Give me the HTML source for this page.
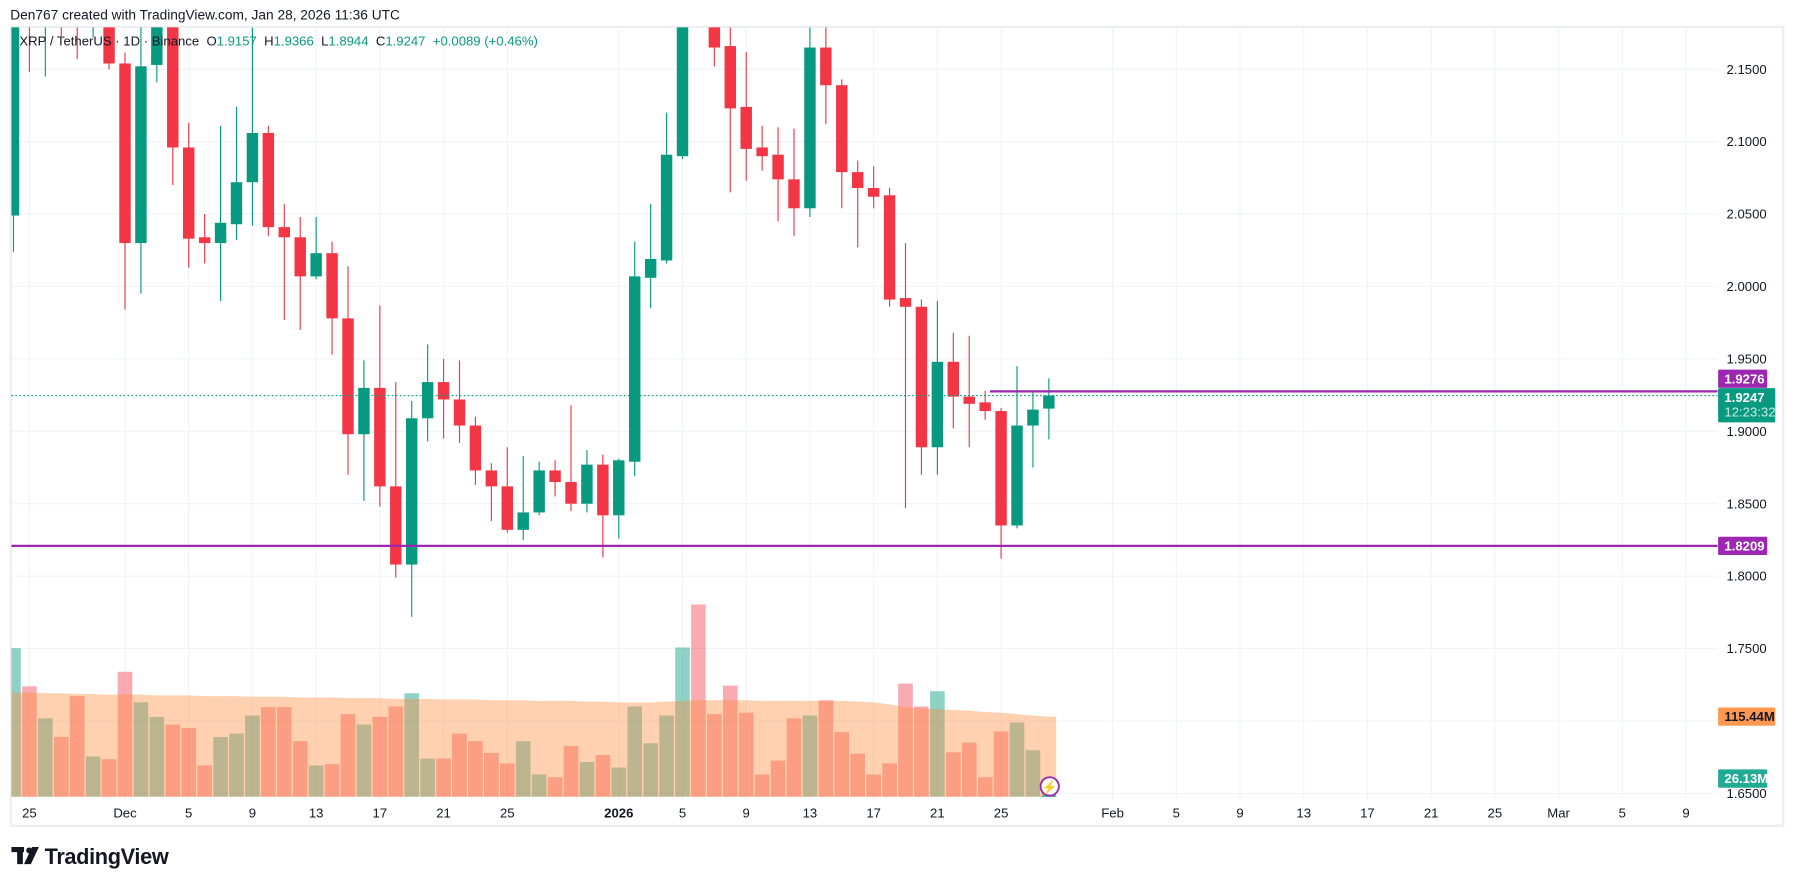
<!DOCTYPE html>
<html><head><meta charset="utf-8"><title>XRP / TetherUS 1D</title>
<style>
html,body{margin:0;padding:0;background:#fff;}
svg{display:block;font-family:"Liberation Sans",sans-serif;}
</style></head>
<body>
<svg id="chart" width="1793" height="887" viewBox="0 0 1568 776" preserveAspectRatio="none" xmlns="http://www.w3.org/2000/svg">
  <defs><clipPath id="pane"><rect x="10" y="24" width="1492" height="698"/></clipPath></defs>
  <rect x="0" y="0" width="1568" height="776" fill="#fff"/>
  <text x="9" y="17" font-size="12" fill="#131722">Den767 created with TradingView.com, Jan 28, 2026 11:36 UTC</text>
  <rect x="9.5" y="23.5" width="1550" height="699" fill="none" stroke="#eceef2" stroke-width="2"/>
  <g id="grid"></g>
  <g id="volume" clip-path="url(#pane)"></g>
  <g id="candles" clip-path="url(#pane)"></g>
  <g id="levels"></g>
  <g id="yaxis"></g>
  <g id="xaxis"></g>
  <text x="17" y="40" font-size="11.5" fill="#131722" xml:space="preserve">XRP / TetherUS · 1D · Binance  O<tspan fill="#089981">1.9157</tspan>  H<tspan fill="#089981">1.9366</tspan>  L<tspan fill="#089981">1.8944</tspan>  C<tspan fill="#089981">1.9247  +0.0089 (+0.46%)</tspan></text>
  <g>
    <rect x="10" y="741" width="11" height="4.5" fill="#131722"/>
    <rect x="15" y="741" width="5" height="15" fill="#131722"/>
    <circle cx="25.5" cy="744" r="2.6" fill="#131722"/>
    <polygon points="28,741 34,741 27,756 21,756" fill="#131722"/>
    <text x="39" y="756" font-size="19" font-weight="bold" fill="#131722" letter-spacing="-0.3">TradingView</text>
  </g>
  <g>
    <circle cx="918" cy="688" r="8" fill="#fff" stroke="#9c27b0" stroke-width="1.6"/>
    <text x="918" y="692.5" font-size="11" fill="#9c27b0" text-anchor="middle">⚡</text>
  </g>
</svg>
<script>
// ---- data ----
const open  = [2.049,2.23,2.18,2.21,2.22,2.19,2.21,2.154,2.030,2.153,2.20,2.096,2.034,2.030,2.043,2.072,2.106,2.041,2.034,2.007,2.023,1.978,1.898,1.930,1.862,1.808,1.909,1.934,1.922,1.904,1.873,1.862,1.832,1.844,1.873,1.865,1.850,1.877,1.842,1.879,2.006,2.018,2.090,2.28,2.20,2.166,2.124,2.096,2.091,2.074,2.054,2.165,2.139,2.079,2.068,2.063,1.992,1.986,1.889,1.948,1.924,1.920,1.914,1.835,1.904,1.9157];
const high  = [2.25,2.24,2.24,2.23,2.24,2.24,2.23,2.1615,2.22,2.22,2.22,2.113,2.050,2.111,2.124,2.20,2.111,2.057,2.048,2.048,2.031,2.014,1.949,1.987,1.934,1.921,1.960,1.950,1.949,1.910,1.878,1.889,1.883,1.879,1.880,1.918,1.887,1.884,1.881,2.031,2.057,2.120,2.25,2.35,2.21,2.19,2.162,2.111,2.110,2.109,2.19,2.19,2.143,2.087,2.083,2.068,2.030,1.991,1.990,1.968,1.966,1.928,1.916,1.945,1.928,1.9366];
const low   = [2.024,2.148,2.145,2.173,2.157,2.172,2.150,1.984,1.995,2.141,2.070,2.013,2.016,1.990,2.032,2.042,2.035,1.977,1.970,2.005,1.953,1.870,1.852,1.848,1.799,1.772,1.893,1.895,1.892,1.863,1.838,1.830,1.825,1.842,1.855,1.845,1.844,1.813,1.826,1.869,1.985,2.016,2.088,2.185,2.152,2.065,2.073,2.080,2.045,2.035,2.048,2.112,2.054,2.027,2.054,1.986,1.847,1.870,1.870,1.902,1.889,1.908,1.812,1.833,1.875,1.8944];
const close = [2.22,2.19,2.22,2.19,2.20,2.22,2.154,2.030,2.152,2.19,2.096,2.033,2.030,2.044,2.072,2.106,2.041,2.034,2.007,2.023,1.978,1.898,1.930,1.862,1.808,1.909,1.934,1.922,1.904,1.873,1.862,1.832,1.844,1.873,1.865,1.850,1.877,1.842,1.880,2.007,2.019,2.091,2.22,2.20,2.165,2.123,2.095,2.090,2.074,2.054,2.165,2.139,2.079,2.068,2.062,1.991,1.986,1.889,1.948,1.924,1.919,1.914,1.835,1.904,1.915,1.9247];
const volume = [214,159,113,86,145,58,54,180,136,115,104,99,45,86,91,117,129,129,80,45,47,119,104,115,130,149,55,55,91,80,63,48,80,32,28,73,50,60,42,130,77,117,215,277,119,160,121,32,52,113,117,139,93,62,32,48,163,130,152,64,78,28,94,107,67,26.13];
const volumeMA = [150,150,149,149,148,148,147,147,147,146,146,146,145,145,145,144,144,144,143,143,143,142,142,142,141,141,141,140,140,140,139,139,139,138,138,138,137,137,136,136,136,137,138,139,139,139,139,138,138,138,138,138,138,137,136,133,129,127,126,125,124,122,121,119,117,115.44];
const priceTicks = [2.15,2.10,2.05,2.00,1.95,1.90,1.85,1.80,1.75,1.70,1.65];
const dateTickDays = [1,7,11,15,19,23,27,31,38,42,46,50,54,58,62,69,73,77,81,85,89,93,97,101,105];
const dateTickLabels = ["25","Dec","5","9","13","17","21","25","2026","5","9","13","17","21","25","Feb","5","9","13","17","21","25","Mar","5","9"];
const resistanceLevel = 1.9276;
const supportLevel = 1.8209;
const lastPrice = 1.9247;
const countdown = "12:23:32";
const maLabel = "115.44M";
const volLabel = "26.13M";
const resistanceStartDay = 61.3;

// ---- scales ----
const X0 = 11.8, DX = 13.93;
function xOf(d){ return X0 + d*DX; }
function yOf(p){ return 60.6 + (2.15 - p)*1267; }
const VBASE = 697, VPX = 1/1.647;
function vy(v){ return VBASE - v*VPX; }
const PANE_L = 10, PANE_R = 1502;

const NS = "http://www.w3.org/2000/svg";
function mk(tag, attrs, parent){
  const e = document.createElementNS(NS, tag);
  for (const k in attrs) e.setAttribute(k, attrs[k]);
  parent.appendChild(e);
  return e;
}
const grid = document.getElementById('grid');
const vol = document.getElementById('volume');
const cg = document.getElementById('candles');
const lv = document.getElementById('levels');
const ya = document.getElementById('yaxis');
const xa = document.getElementById('xaxis');

// grid
priceTicks.forEach(p=>{
  const l = mk('line',{x1:PANE_L,x2:PANE_R,y1:yOf(p),y2:yOf(p),stroke:'#f0f3fa','stroke-width':1},grid);
  
  
});
dateTickDays.forEach(d=>{
  const l = mk('line',{x1:xOf(d),x2:xOf(d),y1:24,y2:700,stroke:'#f0f3fa','stroke-width':1},grid);
  
  
});

// volume bars
volume.forEach((v,i)=>{
  const up = close[i] >= open[i];
  const r = mk('rect',{x:xOf(i)-6.4,y:vy(v),width:12.8,height:VBASE-vy(v),fill:up?'rgba(8,153,129,0.45)':'rgba(242,54,69,0.42)'},vol);
  
  
});
// volume MA area
let pts = [];
volumeMA.forEach((v,i)=>{ pts.push((i===0?PANE_L:xOf(i))+','+vy(v)); });
pts.push((xOf(volumeMA.length-1)+6.4)+','+vy(volumeMA[volumeMA.length-1]));
pts.push((xOf(volumeMA.length-1)+6.4)+','+VBASE);
pts.push(PANE_L+','+VBASE);
const area = mk('polygon',{points:pts.join(' '),fill:'rgba(255,140,60,0.4)'},vol);


const lastI = volume.length-1;
const mkline = mk('line',{x1:xOf(lastI)-6.4,x2:xOf(lastI)+6.4,y1:VBASE-0.5,y2:VBASE-0.5,stroke:'#22ab94','stroke-width':1},vol);



// candles
open.forEach((o,i)=>{
  const c = close[i], up = c >= o, col = up ? '#089981' : '#f23645';
  const x = xOf(i);
  const g = mk('g',{},cg);
  
  
  mk('line',{x1:x,x2:x,y1:yOf(high[i]),y2:yOf(low[i]),stroke:col,'stroke-width':1},g);
  const top = yOf(Math.max(o,c)), bot = yOf(Math.min(o,c));
  mk('rect',{x:x-5,y:top,width:10,height:Math.max(1,bot-top),fill:col},g);
});

// levels
const sup = mk('line',{x1:PANE_L,x2:PANE_R,y1:yOf(supportLevel),y2:yOf(supportLevel),stroke:'#9c27b0','stroke-width':2},lv);


const res = mk('line',{x1:xOf(resistanceStartDay),x2:PANE_R,y1:yOf(resistanceLevel),y2:yOf(resistanceLevel),stroke:'#9c27b0','stroke-width':2},lv);


const lp = mk('line',{x1:PANE_L,x2:PANE_R,y1:yOf(lastPrice),y2:yOf(lastPrice),stroke:'#089981','stroke-width':1,'stroke-dasharray':'1.5 2'},lv);



// y axis labels
priceTicks.forEach(p=>{
  const t = mk('text',{x:1545,y:yOf(p)+4,'font-size':11.5,fill:'#131722','text-anchor':'end'},ya);
  t.textContent = p.toFixed(4);
  
  
});
function badge(y, h, w, fill, lines, name, txtCol){
  const g = mk('g',{},ya);
  
  
  mk('rect',{x:1502.5,y:y-h/2,width:w,height:h,fill:fill,rx:1},g);
  lines.forEach((s,k)=>{
    const t = mk('text',{x:1508,y:y-h/2+12+k*13,'font-size':11.5,'font-weight':k===0?'bold':'normal',fill:k===0?txtCol:'rgba(255,255,255,0.8)'},g);
    t.textContent = s;
  });
}
badge(yOf(lastPrice)+8.5, 30, 50, '#089981', [lastPrice.toFixed(4), countdown], 'last-price-badge', '#fff');
badge(yOf(resistanceLevel)-11, 16, 43, '#9c27b0', [resistanceLevel.toFixed(4)], 'resistance-price-badge', '#fff');
badge(yOf(supportLevel), 16, 43, '#9c27b0', [supportLevel.toFixed(4)], 'support-price-badge', '#fff');
badge(vy(volumeMA[volumeMA.length-1]), 16, 50, '#ff9850', [maLabel], 'volume-ma-badge', '#131722');
badge(vy(volume[volume.length-1]), 16, 43, '#22ab94', [volLabel], 'volume-badge', '#fff');

// x axis labels
dateTickDays.forEach((d,k)=>{
  const lab = dateTickLabels[k];
  const t = mk('text',{x:xOf(d),y:715,'font-size':11.5,fill:'#131722','text-anchor':'middle','font-weight':lab==='2026'?'bold':'normal'},xa);
  t.textContent = lab;
  
  
});
</script>
</body></html>
